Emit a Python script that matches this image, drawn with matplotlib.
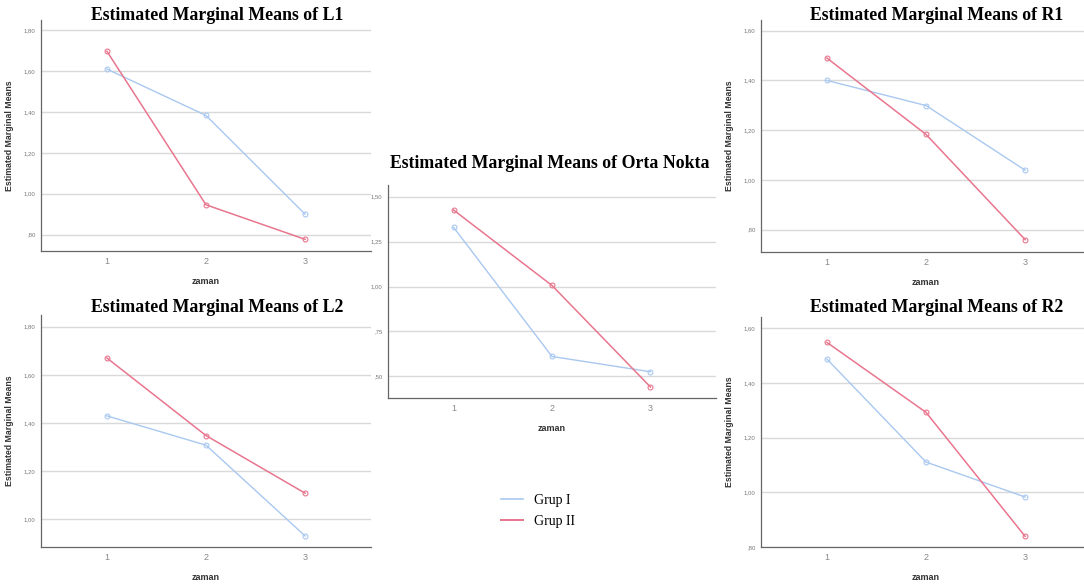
import matplotlib
matplotlib.use("Agg")
import matplotlib.pyplot as plt
from matplotlib.lines import Line2D

# zaman levels
zaman = [1, 2, 3]

# estimated marginal means
l1_grup1 = [1.61, 1.383, 0.90]
l1_grup2 = [1.697, 0.946, 0.777]
l2_grup1 = [1.429, 1.307, 0.929]
l2_grup2 = [1.67, 1.347, 1.107]
orta_grup1 = [1.33, 0.611, 0.526]
orta_grup2 = [1.426, 1.006, 0.441]
r1_grup1 = [1.40, 1.299, 1.039]
r1_grup2 = [1.49, 1.183, 0.76]
r2_grup1 = [1.488, 1.111, 0.983]
r2_grup2 = [1.549, 1.293, 0.839]

# y ticks and SPSS-style labels
ticks_l1 = [0.8, 1.0, 1.2, 1.4, 1.6, 1.8]
labels_l1 = [",80", "1,00", "1,20", "1,40", "1,60", "1,80"]
ticks_l2 = [1.0, 1.2, 1.4, 1.6, 1.8]
labels_l2 = ["1,00", "1,20", "1,40", "1,60", "1,80"]
ticks_orta = [0.5, 0.75, 1.0, 1.25, 1.5]
labels_orta = [",50", ",75", "1,00", "1,25", "1,50"]
ticks_r = [0.8, 1.0, 1.2, 1.4, 1.6]
labels_r = [",80", "1,00", "1,20", "1,40", "1,60"]

groups = ["Grup I", "Grup II"]

W, H = 1084, 586
BLUE = "#a9c8f0"
RED = "#e8768e"

fig = plt.figure(figsize=(W / 100, H / 100), dpi=100, facecolor="white")


def px_axes(left, top, width, height):
    return fig.add_axes([left / W, 1 - (top + height) / H, width / W, height / H])


def panel(ax, g1, g2, yticks, ylabels, ylim, title, title_xy, ylab=True):
    ax.plot(zaman, g1, color=BLUE, lw=1.0, marker="o", ms=3.5, mfc="none", mew=0.8)
    ax.plot(zaman, g2, color=RED, lw=1.1, marker="o", ms=3.5, mfc="none", mew=0.8)
    ax.set_xlim(0.335, 3.665)
    ax.set_ylim(*ylim)
    ax.set_xticks(zaman)
    ax.set_xticklabels([str(z) for z in zaman], fontsize=6.5, color="#888888",
                       family="Liberation Sans")
    ax.set_yticks(yticks)
    ax.set_yticklabels(ylabels, fontsize=4.3, color="#777777", family="Liberation Sans")
    ax.tick_params(length=0, pad=4)
    ax.grid(axis="y", color="#d9d9d9", lw=1.0)
    ax.set_axisbelow(True)
    for s in ["top", "right"]:
        ax.spines[s].set_visible(False)
    for s in ["left", "bottom"]:
        ax.spines[s].set_color("#666666")
        ax.spines[s].set_linewidth(0.9)
    ax.set_xlabel("zaman", fontsize=6.5, weight="bold", color="#333333",
                  family="Liberation Sans", labelpad=8)
    if ylab:
        ax.set_ylabel("Estimated Marginal Means", fontsize=6.3, weight="bold", color="#333333",
                      family="Liberation Sans", labelpad=7)
    fig.text(title_xy[0] / W, 1 - title_xy[1] / H, title, ha="center", va="center",
             fontsize=12.8, weight="bold", family="Liberation Serif")


ax_l1 = px_axes(41, 20, 330, 231)
panel(ax_l1, l1_grup1, l1_grup2, ticks_l1, labels_l1, (0.72, 1.85),
      "Estimated Marginal Means of L1", (217, 15))

ax_l2 = px_axes(41, 315, 330, 232)
panel(ax_l2, l2_grup1, l2_grup2, ticks_l2, labels_l2, (0.883, 1.849),
      "Estimated Marginal Means of L2", (217, 308))

ax_mid = px_axes(388, 185, 328, 213)
panel(ax_mid, orta_grup1, orta_grup2, ticks_orta, labels_orta, (0.38, 1.565),
      "Estimated Marginal Means of Orta Nokta", (550, 163), ylab=False)

ax_r1 = px_axes(761, 20, 330, 232)
panel(ax_r1, r1_grup1, r1_grup2, ticks_r, labels_r, (0.71, 1.643),
      "Estimated Marginal Means of R1", (937, 15))

ax_r2 = px_axes(761, 317, 330, 230)
panel(ax_r2, r2_grup1, r2_grup2, ticks_r, labels_r, (0.80, 1.642),
      "Estimated Marginal Means of R2", (937, 307))

# shared legend under the middle chart
handles = [Line2D([], [], color=BLUE, lw=1.2), Line2D([], [], color=RED, lw=1.4)]
fig.legend(handles, groups, loc="center left",
           bbox_to_anchor=(495 / W, 1 - 511 / H), frameon=False, borderaxespad=0,
           prop={"family": "Liberation Serif", "size": 10},
           handlelength=1.65, handletextpad=0.75, labelspacing=0.55)

fig.savefig("out.png", dpi=100, facecolor="white")
